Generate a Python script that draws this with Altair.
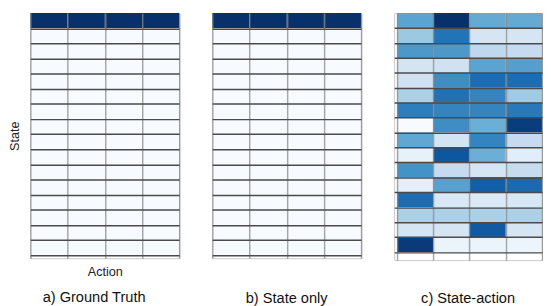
import altair as alt
import pandas as pd

actions = [0, 1, 2, 3]
states = list(range(16))

ground_truth = [[1.0, 1.0, 1.0, 1.0]] + [[0.0, 0.0, 0.0, 0.0] for _ in range(15)]
state_only = [[1.0, 1.0, 1.0, 1.0]] + [[0.0, 0.0, 0.0, 0.0] for _ in range(15)]
state_action = [
    [0.55, 1.00, 0.52, 0.52],
    [0.38, 0.74, 0.17, 0.17],
    [0.60, 0.60, 0.27, 0.25],
    [0.18, 0.20, 0.55, 0.57],
    [0.20, 0.64, 0.77, 0.77],
    [0.33, 0.75, 0.68, 0.37],
    [0.70, 0.68, 0.68, 0.72],
    [0.00, 0.64, 0.50, 0.95],
    [0.53, 0.18, 0.68, 0.25],
    [0.08, 0.85, 0.50, 0.11],
    [0.62, 0.25, 0.17, 0.24],
    [0.09, 0.56, 0.82, 0.78],
    [0.77, 0.15, 0.14, 0.16],
    [0.33, 0.33, 0.33, 0.33],
    [0.17, 0.17, 0.84, 0.17],
    [0.96, 0.06, 0.06, 0.05],
]

titles = ["a) Ground Truth", "b) State only", "c) State-action"]

blues = ["#f7fbff", "#deebf7", "#c6dbef", "#9ecae1", "#6baed6",
         "#4292c6", "#2171b5", "#08519c", "#08306b"]
blues_domain = [i / 8 for i in range(9)]


def table(values):
    rows = []
    for s in states:
        for a in actions:
            rows.append({"action": a, "action_end": a + 1,
                         "state": s, "state_end": s + 1,
                         "value": values[s][a]})
    return pd.DataFrame(rows)


def panel(values, title, width, height, xdom, ydom, xtitle, ytitle, toff):
    x_axis = alt.Axis(values=[0, 1, 2, 3, 4], grid=True, gridColor="#8a8a8a",
                      gridOpacity=0.75, gridWidth=1.5, labels=False, ticks=False,
                      domain=False, zindex=1, title=xtitle, titlePadding=8,
                      titleFontSize=13, titleFontWeight="normal",
                      titleFont="Liberation Sans", titleColor="#222")
    y_axis = alt.Axis(values=list(range(1, 17)), grid=True, gridColor="#4a4a4a",
                      gridWidth=1.5, labels=False, ticks=False, domain=False,
                      zindex=1, title=ytitle, titlePadding=9, titleFontSize=13,
                      titleFontWeight="normal", titleFont="Liberation Sans",
                      titleColor="#222")
    return alt.Chart(table(values)).mark_rect().encode(
        x=alt.X("action:Q", scale=alt.Scale(domain=xdom, nice=False, zero=False), axis=x_axis),
        x2="action_end:Q",
        y=alt.Y("state:Q", scale=alt.Scale(domain=ydom, nice=False, zero=False, reverse=True), axis=y_axis),
        y2="state_end:Q",
        color=alt.Color("value:Q", scale=alt.Scale(domain=blues_domain, range=blues), legend=None),
    ).properties(
        width=width, height=height,
        title=alt.TitleParams(title, orient="bottom", fontSize=15, fontWeight="normal",
                              font="Liberation Sans", color="#111", offset=toff,
                              frame="bounds", anchor="middle"),
    )


pa = panel(ground_truth, titles[0], 153, 252, [0, 4], [0, 16.2], "Action", "State", 12)
pb = panel(state_only, titles[1], 153, 252, [0, 4], [0, 16.2], None, None, 34)
pc = panel(state_action, titles[2], 152, 254, [-0.08, 4], [0, 16.55], None, None, 32)

chart = alt.hconcat(pa, pb, pc, spacing=32).configure(padding=0).configure_view(
    stroke="#c8c8c8", strokeWidth=1
)

chart.save("out.html", embed_options={"renderer": "svg", "actions": False})
